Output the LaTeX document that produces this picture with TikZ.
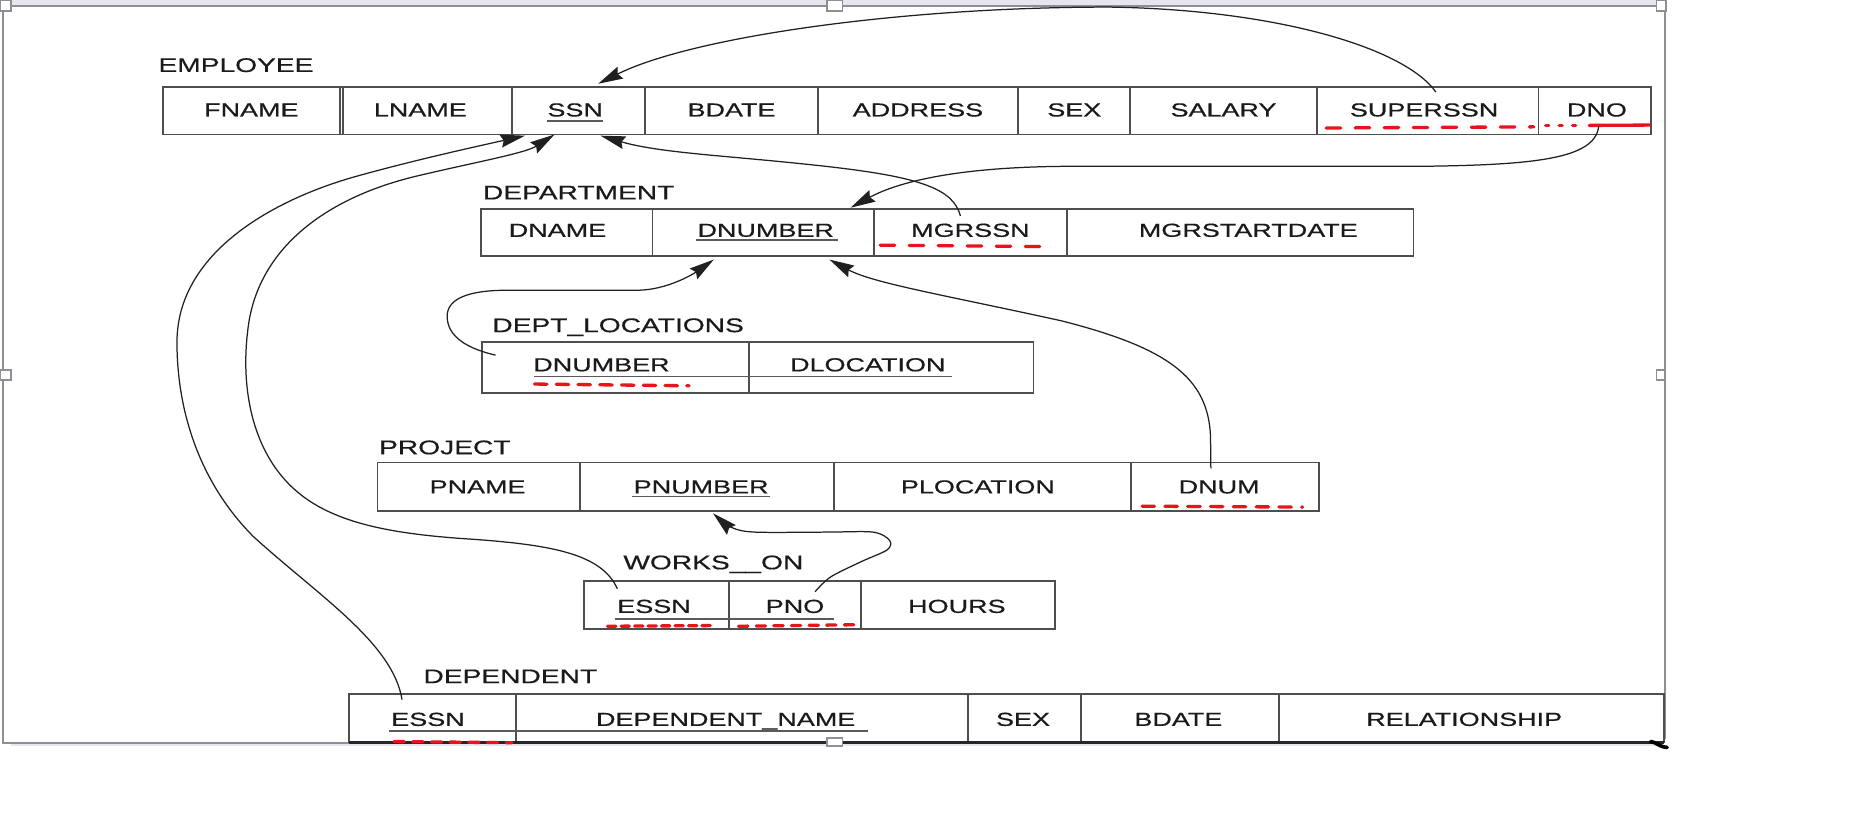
\documentclass[tikz,border=0pt]{standalone}
\usepackage{fontspec}
\setmainfont{Liberation Sans}[FakeStretch=1.43,FakeBold=0.5]
\usetikzlibrary{arrows.meta,calc}
\definecolor{cellline}{HTML}{4E4E4E}
\definecolor{textcol}{HTML}{1A1A1A}
\definecolor{conncol}{HTML}{202020}
\definecolor{ulcol}{HTML}{5A5A5A}
\definecolor{redmark}{HTML}{E8141C}
\definecolor{framegray}{HTML}{8E8E94}
\definecolor{bandcol}{HTML}{E6E6F0}
\newcommand\cellat[8]{%
  \node[cellbox, minimum width={(#3-#2)*0.02cm}, minimum height={(#5-#4)*0.02cm}, anchor=north west] (#1) at (#2,#4) {};
  \node[celltext] (#1-t) at ($(#1.center)+(#6,#7)$) {#8};}
\begin{document}
\begin{tikzpicture}[x=0.02cm,y=-0.02cm,
  cellbox/.style={draw=cellline, line width=0.9pt, inner sep=0pt, outer sep=0pt},
  celltext/.style={inner sep=0pt, font=\fontsize{9.1}{10}\selectfont, text=textcol, text height=6.5pt, text depth=0pt},
  tlabel/.style={anchor=west, inner sep=0pt, font=\fontsize{9.5}{11}\selectfont, text=textcol, text height=6.8pt, text depth=0pt},
  conn/.style={draw=conncol, line width=0.6pt, -{Stealth[length=4.2mm,width=2.2mm,inset=0.5mm]}},
  uline/.style={draw=ulcol, line width=0.7pt},
  reddash/.style={draw=redmark, line width=1.6pt, line cap=round, dash pattern=on 7pt off 7pt},
  handle/.style={draw=framegray, fill=white, line width=0.7pt}]
\useasboundingbox (0,0) rectangle (1568,689);
\fill[white] (0,0) rectangle (1568,689);
% ---- selection frame ----
\fill[bandcol] (9,0) rectangle (1404,5.2);
\fill[bandcol] (9,629) rectangle (1404,632.5);
\draw[framegray, line width=0.8pt] (2.5,9) -- (2.5,629.5) -- (296,629.5);
\draw[framegray, line width=0.8pt] (9,5.2) -- (1404,5.2);
\draw[framegray, line width=0.8pt] (1411,9) -- (1411,626);
\draw[handle] (0.4,0.4) rectangle (9.3,9.3);
\draw[handle] (701,0.4) rectangle (714,9.3);
\draw[handle] (1404,0.4) rectangle (1412,9.3);
\draw[handle] (0.4,313.5) rectangle (9.3,322);
\draw[handle] (1404,313.5) rectangle (1411,322);
% ---- EMPLOYEE ----
\node[tlabel] (lemp) at (134,55) {EMPLOYEE};
\cellat{fname}{138}{288}{74}{114}{0}{-1}{FNAME}
\cellat{lname}{290.5}{434}{74}{114}{-6}{-1}{LNAME}
\cellat{ssn}{434}{547}{74}{114}{-3}{-1}{SSN}
\cellat{bdate}{547}{693}{74}{114}{0}{-1}{BDATE}
\cellat{address}{693}{863}{74}{114}{0}{-1}{ADDRESS}
\cellat{sex}{863}{958}{74}{114}{0}{-1}{SEX}
\cellat{salary}{958}{1116}{74}{114}{0}{-1}{SALARY}
\cellat{superssn}{1116}{1304}{74}{114}{-3}{-1}{SUPERSSN}
\cellat{dno}{1304}{1399}{74}{114}{2}{-1}{DNO}
\draw[cellline, line width=0.9pt] (fname.north west) rectangle (dno.south east);
\draw[uline] (464,102.5) -- (511,102.5);
% ---- DEPARTMENT ----
\node[tlabel] (ldept) at (409,163) {DEPARTMENT};
\cellat{dname}{408}{553}{177}{217}{-8}{-2}{DNAME}
\cellat{dnumber}{553}{741}{177}{217}{2}{-2}{DNUMBER}
\cellat{mgrssn}{741}{904}{177}{217}{0}{-2}{MGRSSN}
\cellat{mgrstart}{904}{1198}{177}{217}{7}{-2}{MGRSTARTDATE}
\draw[uline] (590,203.4) -- (710,203.4);
% ---- DEPT_LOCATIONS ----
\node[tlabel] (ldloc) at (417,275.5) {DEPT\_LOCATIONS};
\cellat{dlnumber}{408.6}{635}{290}{333}{-12}{-2.5}{DNUMBER}
\cellat{dlocation}{635}{876}{290}{333}{-20}{-2.5}{DLOCATION}
\draw[uline] (453,319) -- (807,319);
% ---- PROJECT ----
\node[tlabel] (lproj) at (321,379) {PROJECT};
\cellat{pname}{320}{491.6}{392}{433}{-1}{0}{PNAME}
\cellat{pnumber}{491.6}{707}{392}{433}{-5}{0}{PNUMBER}
\cellat{plocation}{707}{958.6}{392}{433}{-4}{0}{PLOCATION}
\cellat{dnum}{958.6}{1118}{392}{433}{-5}{0}{DNUM}
\draw[uline] (536,421) -- (653,421);
% ---- WORKS_ON ----
\node[tlabel] (lworks) at (528,476.5) {WORKS\_\_ON};
\cellat{woessn}{495}{617.6}{492.5}{533}{-2}{1}{ESSN}
\cellat{pno}{617.6}{730}{492.5}{533}{0}{1}{PNO}
\cellat{hours}{730}{894}{492.5}{533}{-1}{1}{HOURS}
\draw[uline] (521,524.7) -- (707,524.7);
% ---- DEPENDENT ----
\node[tlabel] (ldep) at (358.6,573) {DEPENDENT};
\cellat{dessn}{296}{437.5}{588}{629}{-4}{1}{ESSN}
\cellat{depname}{437.5}{820.6}{588}{629}{-14}{1}{DEPENDENT\_NAME}
\cellat{dsex}{820.6}{916.5}{588}{629}{-1.5}{1}{SEX}
\cellat{dbdate}{916.5}{1084}{588}{629}{-1.5}{1}{BDATE}
\cellat{drel}{1084}{1410}{588}{629}{-6}{1}{RELATIONSHIP}
\draw[uline] (330,619.7) -- (736,619.7);
\draw[black!85, line width=1.4pt] (dessn.south west) -- (drel.south east);
\draw[black, line width=1.8pt, line cap=round] (1399,628.5) .. controls (1404,629) and (1406,633) .. (1413,633.5);
\draw[handle] (701,625.4) rectangle (714,632.2);
% ---- red hand marks ----
\draw[reddash] (1124,108.5) -- (1300,107.5);
\draw[reddash, dash pattern=on 1.5pt off 5pt] (1310,106.5) -- (1340,106.5);
\draw[redmark, line width=1.6pt, line cap=round] (1347,106.3) -- (1398,106);
\draw[reddash] (746,207.8) -- (887,209);
\draw[reddash, dash pattern=on 6pt off 4.5pt] (453,325.5) -- (584,327);
\draw[reddash, dash pattern=on 6pt off 5pt] (968,429) -- (1104,429.8);
\draw[reddash, dash pattern=on 4pt off 2.5pt] (515,530.8) -- (603,530.2);
\draw[reddash, dash pattern=on 4.5pt off 4pt] (626,530.8) -- (725,529.5);
\draw[reddash, dash pattern=on 5pt off 4pt] (334,628.5) -- (434,629.5);
% ---- connectors ----
\coordinate (c1s) at ($(superssn.north)+(7,4)$);
\coordinate (c1e) at ($(ssn.north)+(16.5,-3)$);
\draw[conn] (c1s) .. controls (1190,40) and (1080,8) .. (940,6)
   .. controls (760,6) and (585,32) .. (c1e);
\coordinate (c2s) at ($(dno.south)+(3.5,-7)$);
\coordinate (c2e) at ($(dnumber.north)+(74,-1)$);
\draw[conn] (c2s) .. controls (1352,135) and (1300,140) .. (1200,141) -- (900,141)
   .. controls (800,142) and (756,157) .. (c2e);
\coordinate (c3s) at ($(mgrssn.north)+(-8.5,6)$);
\coordinate (c3e) at ($(ssn.south)+(18.5,1)$);
\draw[conn] (c3s) .. controls (808,160) and (780,150) .. (700,141)
   .. controls (620,132) and (560,130) .. (c3e);
\coordinate (c4s) at ($(dlnumber.north west)+(11.4,11)$);
\coordinate (c4e) at ($(dnumber.south)+(-42,3)$);
\draw[conn] (c4s) .. controls (390,294) and (379,282) .. (379,268)
   .. controls (379,254) and (395,246) .. (430,246) -- (540,246)
   .. controls (565,246) and (588,232) .. (c4e);
\coordinate (c5s) at ($(dnum.north)+(-12,5)$);
\coordinate (c5e) at ($(dnumber.south)+(56,3)$);
\draw[conn] (c5s) -- (1026,370) .. controls (1024,320) and (990,295) .. (900,272)
   .. controls (800,250) and (740,240) .. (c5e);
\coordinate (c6s) at ($(woessn.north)+(-33,6.5)$);
\coordinate (c6e) at ($(ssn.south)+(-20.5,0)$);
\draw[conn] (c6s) .. controls (510,470) and (470,462) .. (400,457)
   .. controls (320,452) and (270,440) .. (240,405)
   .. controls (210,370) and (205,320) .. (210,280)
   .. controls (217,215) and (270,170) .. (350,150)
   .. controls (400,138) and (445,130) .. (c6e);
\coordinate (c7s) at ($(dessn.north)+(-26,5)$);
\coordinate (c7e) at ($(ssn.south)+(-45.5,1)$);
\draw[conn] (c7s) .. controls (333,545) and (270,505) .. (215,455)
   .. controls (170,410) and (150,350) .. (150,290)
   .. controls (150,215) and (230,170) .. (300,150)
   .. controls (350,136) and (400,125) .. (c7e);
\coordinate (c8s) at ($(pno.north)+(17,9)$);
\coordinate (c8e) at ($(pnumber.south)+(5,2)$);
\draw[conn] plot[smooth] coordinates {(c8s) (704,489) (730,476) (752,466) (754,458) (740,451) (700,451) (640,451) (620,447) (c8e)};
\end{tikzpicture}
\end{document}
